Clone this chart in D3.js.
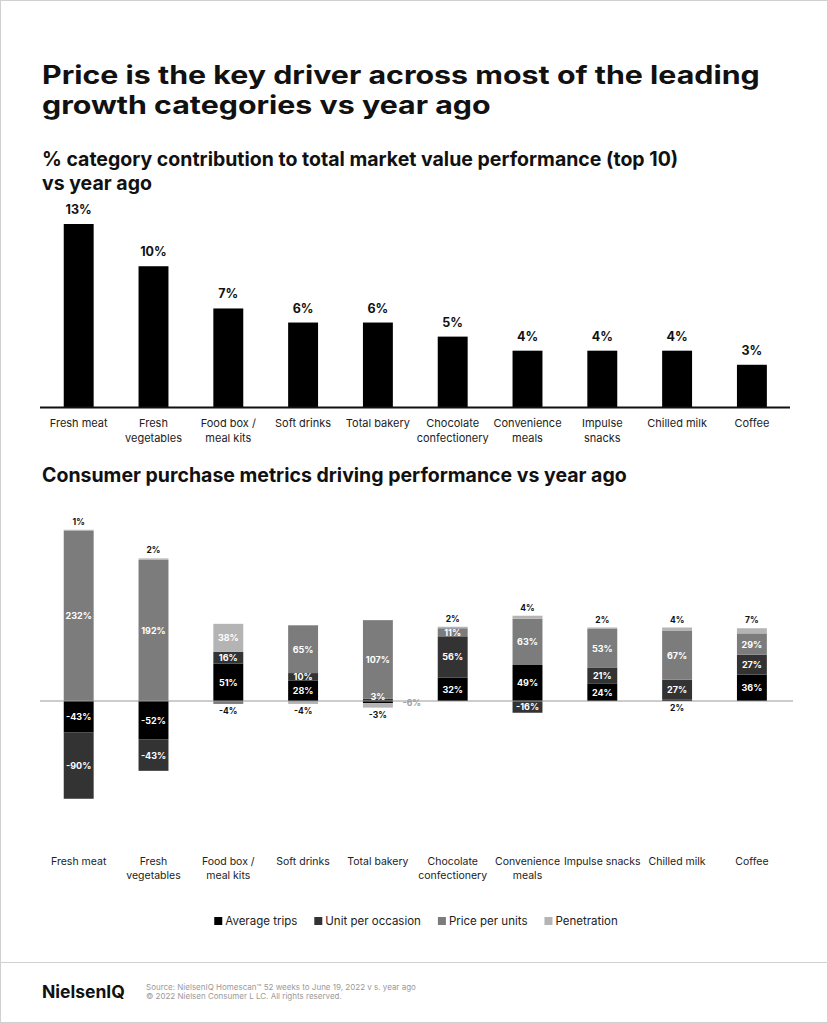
<!DOCTYPE html>
<html>
<head>
<meta charset="utf-8">
<title>Price drivers</title>
<script src="https://cdn.jsdelivr.net/npm/d3@7"></script>
<style>
  body { margin: 0; background: #fff; }
  svg { display: block; font-family: Inter, "Noto Sans", sans-serif; }
</style>
</head>
<body>
<svg id="chart" width="828" height="1023"></svg>
<script>
// categories (shared by both charts)
const categories = ["Fresh meat", "Fresh vegetables", "Food box / meal kits", "Soft drinks", "Total bakery",
  "Chocolate confectionery", "Convenience meals", "Impulse snacks", "Chilled milk", "Coffee"];
// how the labels break into lines
const topLabels = [["Fresh meat"], ["Fresh", "vegetables"], ["Food box /", "meal kits"], ["Soft drinks"], ["Total bakery"],
  ["Chocolate", "confectionery"], ["Convenience", "meals"], ["Impulse", "snacks"], ["Chilled milk"], ["Coffee"]];
const bottomLabels = [["Fresh meat"], ["Fresh", "vegetables"], ["Food box /", "meal kits"], ["Soft drinks"], ["Total bakery"],
  ["Chocolate", "confectionery"], ["Convenience", "meals"], ["Impulse snacks"], ["Chilled milk"], ["Coffee"]];

// % contribution to total market value performance
const contribution = [13, 10, 7, 6, 6, 5, 4, 4, 4, 3];

// purchase metrics (%)
const metricNames = ["Average trips", "Unit per occasion", "Price per units", "Penetration"];
const averageTrips    = [-43, -52, 51, 28, -3, 32, 49, 24, 2, 36];
const unitPerOccasion = [-90, -43, 16, 10, 3, 56, -16, 21, 27, 27];
const pricePerUnits   = [232, 192, -4, 65, 107, 11, 63, 53, 67, 29];
const penetration     = [1, 2, 38, -4, -6, 2, 4, 2, 4, 7];
const metricColors = ["#000000", "#333333", "#7c7c7c", "#b4b4b4"];

const svg = d3.select("#chart");

// page frame
svg.append("rect").attr("x", 0.5).attr("y", 0.5).attr("width", 827).attr("height", 1022)
  .attr("fill", "none").attr("stroke", "#d0d0d0");

// titles (the brand face is a wide grotesk, so stretch the headline to its width)
const title = svg.append("text").attr("font-size", 25).attr("font-weight", 700).attr("fill", "#111");
title.append("tspan").attr("x", 0).attr("y", 84).text("Price is the key driver across most of the leading");
title.append("tspan").attr("x", 0).attr("y", 114).text("growth categories vs year ago");
const tw = title.select("tspan").node().getComputedTextLength();
title.attr("transform", `translate(42,0) scale(${718 / tw},1)`);

const sub = svg.append("text").attr("font-size", 19.5).attr("font-weight", 700).attr("fill", "#111");
sub.append("tspan").attr("x", 42).attr("y", 166).text("% category contribution to total market value performance (top 10)");
sub.append("tspan").attr("x", 42).attr("y", 190).text("vs year ago");

svg.append("text").attr("x", 42).attr("y", 482).attr("font-size", 19.5).attr("font-weight", 700).attr("fill", "#111")
  .text("Consumer purchase metrics driving performance vs year ago");

// ---------- top chart ----------
const x = d3.scaleBand().domain(categories).range([41.3, 789.3]).paddingInner(0.6).paddingOuter(0.3);
const cx = i => x(categories[i]) + x.bandwidth() / 2;
const yTop = d3.scaleLinear().domain([0, 13]).range([407, 224]);

svg.append("g").selectAll("rect").data(contribution).join("rect")
  .attr("x", (d, i) => x(categories[i]))
  .attr("y", d => yTop(d))
  .attr("width", x.bandwidth())
  .attr("height", d => yTop(0) - yTop(d))
  .attr("fill", "#000");

svg.append("g").selectAll("text").data(contribution).join("text")
  .attr("x", (d, i) => cx(i))
  .attr("y", d => yTop(d) - 10)
  .attr("text-anchor", "middle").attr("font-size", 12.5).attr("font-weight", 700).attr("fill", "#111")
  .text(d => d + "%");

svg.append("line").attr("x1", 40).attr("x2", 790).attr("y1", yTop(0) + 0.5).attr("y2", yTop(0) + 0.5)
  .attr("stroke", "#111").attr("stroke-width", 2);

const topCat = svg.append("g").selectAll("text").data(topLabels).join("text")
  .attr("text-anchor", "middle").attr("font-size", 11).attr("fill", "#222");
topCat.each(function(lines, i) {
  d3.select(this).selectAll("tspan").data(lines).join("tspan")
    .attr("x", cx(i))
    .attr("y", (l, j) => 427 + j * 15)
    .text(l => l);
});

// ---------- bottom chart ----------
const rows = categories.map((c, i) => ({
  cat: c,
  "Average trips": averageTrips[i],
  "Unit per occasion": unitPerOccasion[i],
  "Price per units": pricePerUnits[i],
  "Penetration": penetration[i]
}));
const stacked = d3.stack().keys(metricNames).offset(d3.stackOffsetDiverging)(rows);

const y = d3.scaleLinear().domain([-100, 240]).range([701 + 100 * 0.735, 701 - 240 * 0.735]);

const segs = [];
stacked.forEach((s, k) => s.forEach((p, i) => segs.push({ k, i, v: p.data[s.key], y0: p[0], y1: p[1] })));

svg.append("g").selectAll("rect").data(segs.filter(d => d.v !== 0)).join("rect")
  .attr("x", d => x(categories[d.i]))
  .attr("y", d => y(Math.max(d.y0, d.y1)))
  .attr("width", x.bandwidth())
  .attr("height", d => Math.abs(y(d.y0) - y(d.y1)))
  .attr("fill", d => metricColors[d.k]);

svg.append("line").attr("x1", 40).attr("x2", 793).attr("y1", y(0)).attr("y2", y(0))
  .attr("stroke", "#9a9a9a").attr("stroke-width", 1);

// label placement: big segments inside, small ones outside the stack
const labels = [];
categories.forEach((c, i) => {
  const mine = segs.filter(d => d.i === i);
  const top = d3.max(mine, d => Math.max(d.y0, d.y1));
  const bottom = d3.min(mine, d => Math.min(d.y0, d.y1));
  const lastPos = d3.max(mine.filter(d => d.v > 0), d => d.k);
  let smallNeg = 0;
  mine.forEach(d => {
    const t = d.v + "%";
    if (Math.abs(d.v) >= 8) {
      labels.push({ x: cx(i), y: y((d.y0 + d.y1) / 2) + 3.5, t, fill: "#fff", size: 9 });
    } else if (d.v > 0) {
      if (d.k === lastPos) labels.push({ x: cx(i), y: y(top) - 5, t, fill: "#111", size: 8.5 });
      else if (d.k === 0) labels.push({ x: cx(i), y: y(0) + 10, t, fill: "#111", size: 8.5 });
      else labels.push({ x: cx(i), y: y(0) - 1, t, fill: "#fff", size: 9 });
    } else {
      if (smallNeg === 0) labels.push({ x: cx(i), y: y(bottom) + 10, t, fill: "#111", size: 8.5 });
      else labels.push({ x: cx(i) + x.bandwidth() / 2 + 10, y: y(0) + 5, t, fill: "#9a9a9a", size: 8.5, anchor: "start" });
      smallNeg++;
    }
  });
});

svg.append("g").selectAll("text").data(labels).join("text")
  .attr("x", d => d.x).attr("y", d => d.y)
  .attr("text-anchor", d => d.anchor || "middle")
  .attr("font-size", d => d.size).attr("font-weight", 700).attr("fill", d => d.fill)
  .text(d => d.t);

const botCat = svg.append("g").selectAll("text").data(bottomLabels).join("text")
  .attr("text-anchor", "middle").attr("font-size", 10.5).attr("fill", "#222");
botCat.each(function(lines, i) {
  d3.select(this).selectAll("tspan").data(lines).join("tspan")
    .attr("x", cx(i))
    .attr("y", (l, j) => 865 + j * 14)
    .text(l => l);
});

// legend
const legend = svg.append("g");
const items = legend.selectAll("g").data(metricNames).join("g");
items.append("rect").attr("width", 8).attr("height", 8).attr("y", -8).attr("fill", (d, k) => metricColors[k]);
items.append("text").attr("x", 11).attr("font-size", 11.5).attr("fill", "#222").text(d => d);
let lx = 0;
items.each(function() {
  d3.select(this).attr("transform", `translate(${lx},0)`);
  lx += this.getBBox().width + 17;
});
lx -= 17;
legend.attr("transform", `translate(${416 - lx / 2},925)`);

// footer
svg.append("line").attr("x1", 0).attr("x2", 828).attr("y1", 962.5).attr("y2", 962.5).attr("stroke", "#d0d0d0");
svg.append("text").attr("x", 42).attr("y", 998).attr("font-size", 17.5).attr("font-weight", 700).attr("fill", "#111")
  .text("NielsenIQ");
const src = svg.append("text").attr("font-size", 8).attr("fill", "#9a9a9a");
src.append("tspan").attr("x", 146).attr("y", 990).text("Source: NielsenIQ Homescan™ 52 weeks to June 19, 2022 v s. year ago");
src.append("tspan").attr("x", 146).attr("y", 999).text("© 2022 Nielsen Consumer L LC. All rights reserved.");
</script>
</body>
</html>
